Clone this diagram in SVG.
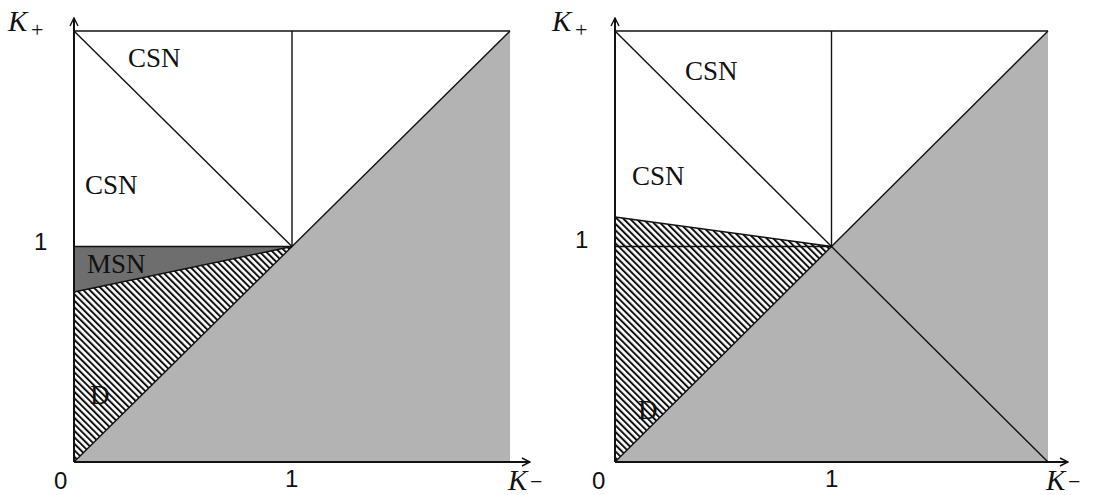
<svg xmlns="http://www.w3.org/2000/svg" width="1095" height="495" viewBox="0 0 1095 495">
<style>
.ln{stroke:#111;stroke-width:1.4;fill:none}
.ax{stroke:#111;stroke-width:2;fill:none}
.gray{fill:#b3b3b3}
.dark{fill:#6e6e6e}
.hatch{fill:url(#hatch)}
.lbl{font-family:"Liberation Serif",serif;font-size:27px;fill:#111}
.num{font-family:"Liberation Sans",sans-serif;font-size:24px;fill:#111}
.var{font-family:"Liberation Serif",serif;font-style:italic;font-size:29px;fill:#111}
.sub{font-family:"Liberation Serif",serif;font-size:22px;fill:#111}
</style>
<defs>
<pattern id="hatch" patternUnits="userSpaceOnUse" width="4.6" height="4.6" patternTransform="rotate(-45)">
<rect width="4.6" height="4.6" fill="#fff"/>
<line x1="1" y1="0" x2="1" y2="4.6" stroke="#111" stroke-width="2"/>
</pattern>
<marker id="arr" viewBox="0 0 10 10" refX="9" refY="5" markerWidth="10" markerHeight="10" markerUnits="userSpaceOnUse" orient="auto">
<path d="M1,1 L9,5 L1,9" fill="none" stroke="#111" stroke-width="1.4"/>
</marker>
</defs>
<rect width="1095" height="495" fill="#fff"/>

<g id="left-plot">
<g id="left-regions">
<polygon class="gray" points="74,462 510,31 510,462"/>
<polygon class="hatch" points="74,292 292,246.5 74,462"/>
<polygon class="dark" points="74,246.5 292,246.5 74,292"/>
</g>
<g id="left-connectors">
<line class="ln" x1="74" y1="31" x2="510" y2="31"/>
<line class="ln" x1="74" y1="31" x2="292" y2="246.5"/>
<line class="ln" x1="292" y1="31" x2="292" y2="246.5"/>
<line class="ln" x1="74" y1="246.5" x2="292" y2="246.5"/>
<line class="ln" x1="74" y1="292" x2="292" y2="246.5"/>
<line class="ln" x1="74" y1="462" x2="510" y2="31"/>
<line class="ax" x1="74" y1="462" x2="74" y2="18" marker-end="url(#arr)"/>
<line class="ax" x1="74" y1="462" x2="530" y2="462" marker-end="url(#arr)"/>
</g>
<g id="left-labels">
<text class="lbl" x="128" y="67">CSN</text>
<text class="lbl" x="85" y="194">CSN</text>
<text class="lbl" x="87" y="273" fill="#333">MSN</text>
<text class="lbl" x="90" y="404">D</text>
<text class="num" x="34" y="250">1</text>
<text class="num" x="54" y="489">0</text>
<text class="num" x="285" y="487">1</text>
<text class="var" x="8" y="31">K</text><text class="sub" x="31" y="37">+</text>
<text class="var" x="508" y="490">K</text><text class="sub" x="530" y="489">−</text>
</g>
</g>

<g id="right-plot">
<g id="right-regions">
<polygon class="gray" points="615,462 1048,31 1048,462"/>
<polygon class="hatch" points="615,217 831.5,246.5 615,462"/>
</g>
<g id="right-connectors">
<line class="ln" x1="615" y1="31" x2="1048" y2="31"/>
<line class="ln" x1="615" y1="31" x2="831.5" y2="246.5"/>
<line class="ln" x1="831.5" y1="31" x2="831.5" y2="246.5"/>
<line class="ln" x1="615" y1="246.5" x2="831.5" y2="246.5"/>
<line class="ln" x1="615" y1="217" x2="831.5" y2="246.5"/>
<line class="ln" x1="615" y1="462" x2="1048" y2="31"/>
<line class="ln" x1="831.5" y1="246.5" x2="1048" y2="462"/>
<line class="ax" x1="615" y1="462" x2="615" y2="18" marker-end="url(#arr)"/>
<line class="ax" x1="615" y1="462" x2="1068" y2="462" marker-end="url(#arr)"/>
</g>
<g id="right-labels">
<text class="lbl" x="685" y="80">CSN</text>
<text class="lbl" x="632" y="185">CSN</text>
<text class="lbl" x="638" y="419">D</text>
<text class="num" x="575" y="248">1</text>
<text class="num" x="592" y="489">0</text>
<text class="num" x="825" y="487">1</text>
<text class="var" x="552" y="31">K</text><text class="sub" x="575" y="37">+</text>
<text class="var" x="1046" y="490">K</text><text class="sub" x="1068" y="489">−</text>
</g>
</g>
</svg>
